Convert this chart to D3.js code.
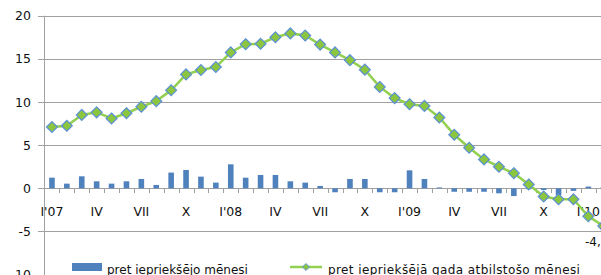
<!DOCTYPE html>
<html>
<head>
<meta charset="utf-8">
<script src="https://cdn.jsdelivr.net/npm/d3@7"></script>
<style>
  body { margin: 0; background: #fff; overflow: hidden; }
  svg { display: block; font-family: "DejaVu Sans", sans-serif; }
</style>
</head>
<body>
<div id="chart"></div>
<script>
// months Jan 2007 .. Feb 2010
const months = d3.range(38)
const tickLabels = ["I'07", "IV", "VII", "X", "I'08", "IV", "VII", "X", "I'09", "IV", "VII", "X", "I'10"]

// pret iepriekšējo mēnesi (month on month, %)
const momValues = [1.23, 0.54, 1.39, 0.81, 0.54, 0.81, 1.08, 0.39, 1.82, 2.12, 1.35, 0.66,
  2.78, 1.23, 1.54, 1.54, 0.81, 0.66, 0.27, -0.46, 1.08, 1.08, -0.46, -0.46,
  2.08, 1.08, 0.1, -0.4, -0.4, -0.4, -0.58, -0.9, -0.1, -0.2, -0.8, -0.3, 0.2, 0.1]

// pret iepriekšējā gada atbilstošo mēnesi (year on year, %)
const yoyValues = [7.1, 7.25, 8.5, 8.8, 8.1, 8.7, 9.45, 10.1, 11.35, 13.2, 13.7, 14.05,
  15.75, 16.7, 16.75, 17.5, 17.95, 17.7, 16.65, 15.75, 14.85, 13.75, 11.75, 10.45,
  9.75, 9.55, 8.2, 6.2, 4.7, 3.35, 2.5, 1.75, 0.45, -0.95, -1.27, -1.27, -3.25, -4.37]

const yTicks = [-10, -5, 0, 5, 10, 15, 20]
const lastLabel = "-4,3"

const width = 601, height = 275

const svg = d3.select("#chart").append("svg")
  .attr("width", width)
  .attr("height", height)

const x = d3.scaleBand()
  .domain(months)
  .range([44.5, 44.5 + 38 * 14.9])
  .padding(0)

const y = d3.scaleLinear()
  .domain([-10, 20])
  .range([274.6, 15.7])

// horizontal grid
svg.append("g")
  .selectAll("line")
  .data(yTicks)
  .join("line")
  .attr("x1", 38)
  .attr("x2", width + 20)
  .attr("y1", d => Math.round(y(d)) + 0.5)
  .attr("y2", d => Math.round(y(d)) + 0.5)
  .attr("stroke", "#a0a0a0")
  .attr("stroke-width", 1)

// y tick labels
svg.append("g")
  .selectAll("text")
  .data(yTicks)
  .join("text")
  .attr("x", 31)
  .attr("y", d => y(d) + 4.5)
  .attr("text-anchor", "end")
  .attr("font-size", 12.5)
  .attr("fill", "#111")
  .text(d => d)

// vertical axis line
svg.append("line")
  .attr("x1", 44.5).attr("x2", 44.5)
  .attr("y1", y(20)).attr("y2", height)
  .attr("stroke", "#a0a0a0")

// x tick marks between categories
svg.append("g")
  .selectAll("line")
  .data(months.slice(1))
  .join("line")
  .attr("x1", d => Math.round(x(d)) + 0.5)
  .attr("x2", d => Math.round(x(d)) + 0.5)
  .attr("y1", Math.round(y(0)))
  .attr("y2", Math.round(y(0)) + 5)
  .attr("stroke", "#a0a0a0")

// x labels every 3rd month
svg.append("g")
  .selectAll("text")
  .data(tickLabels)
  .join("text")
  .attr("x", (d, i) => x(i * 3) + x.bandwidth() / 2)
  .attr("y", 216)
  .attr("text-anchor", "middle")
  .attr("font-size", 12.5)
  .attr("fill", "#111")
  .text(d => d)

// bars
const barW = 5.6
svg.append("g")
  .selectAll("rect")
  .data(momValues)
  .join("rect")
  .attr("x", (d, i) => x(i) + x.bandwidth() / 2 - barW / 2)
  .attr("y", d => y(Math.max(0, d)))
  .attr("width", barW)
  .attr("height", d => Math.abs(y(d) - y(0)))
  .attr("fill", "#4f81bd")

// line
const line = d3.line()
  .x((d, i) => x(i) + x.bandwidth() / 2)
  .y(d => y(d))

svg.append("path")
  .datum(yoyValues)
  .attr("d", line)
  .attr("fill", "none")
  .attr("stroke", "#92d050")
  .attr("stroke-width", 2.5)

const diamond = d3.symbol().type(d3.symbolDiamond2).size(75)
svg.append("g")
  .selectAll("path")
  .data(yoyValues)
  .join("path")
  .attr("transform", (d, i) => `translate(${x(i) + x.bandwidth() / 2},${y(d)})`)
  .attr("d", diamond)
  .attr("fill", "#8cc63f")
  .attr("stroke", "#5b8fd6")
  .attr("stroke-width", 1.2)

// data label of last point
svg.append("text")
  .attr("x", 585)
  .attr("y", 246)
  .attr("font-size", 12)
  .attr("fill", "#111")
  .text(lastLabel)

// legend
const legend = svg.append("g").attr("font-size", 12).attr("fill", "#111")
legend.append("rect")
  .attr("x", 72).attr("y", 263).attr("width", 30).attr("height", 8)
  .attr("fill", "#4f81bd")
legend.append("text")
  .attr("x", 107).attr("y", 273.5)
  .text("pret iepriekšējo mēnesi")
legend.append("line")
  .attr("x1", 290).attr("x2", 322).attr("y1", 267).attr("y2", 267)
  .attr("stroke", "#92d050").attr("stroke-width", 2.5)
legend.append("path")
  .attr("transform", "translate(306,267)")
  .attr("d", d3.symbol().type(d3.symbolDiamond2).size(30))
  .attr("fill", "#8cc63f").attr("stroke", "#5b8fd6")
legend.append("text")
  .attr("x", 328).attr("y", 273.5)
  .attr("letter-spacing", 0.4)
  .text("pret iepriekšējā gada atbilstošo mēnesi")
</script>
</body>
</html>
